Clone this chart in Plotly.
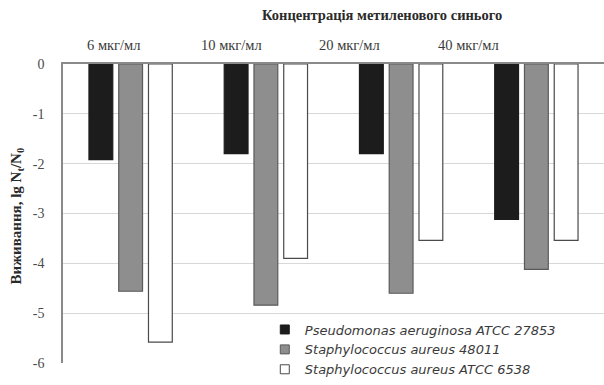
import plotly.graph_objects as go

# Concentrations of methylene blue (category axis)
concentrations = ["6 мкг/мл", "10 мкг/мл", "20 мкг/мл", "40 мкг/мл"]

# Survival, lg Nt/N0, per strain
pseudomonas = [-1.92, -1.80, -1.80, -3.12]
staph_48011 = [-4.56, -4.84, -4.60, -4.12]
staph_6538 = [-5.58, -3.90, -3.54, -3.54]

strain_names = [
    "Pseudomonas aeruginosa ATCC 27853",
    "Staphylococcus aureus 48011",
    "Staphylococcus aureus ATCC 6538",
]

y_ticks = [0, -1, -2, -3, -4, -5, -6]

# Concentration captions sit on a slightly tighter spacing than the groups
caption_x = [0.094, 0.312, 0.529, 0.749]

fill_colors = ["#1c1c1c", "#8e8e8e", "#ffffff"]
edge_colors = ["#1c1c1c", "#5a5a5a", "#4a4a4a"]

fig = go.Figure()
for name, vals, fc, ec in zip(strain_names, [pseudomonas, staph_48011, staph_6538], fill_colors, edge_colors):
    fig.add_trace(go.Bar(
        x=concentrations, y=vals, name=name, legendgroup=name, showlegend=False,
        marker=dict(color=fc, line=dict(color=ec, width=1.2)),
    ))

# Small square swatches for the legend, sharing each strain's colours
for name, fc, ec in zip(strain_names, fill_colors, edge_colors):
    fig.add_trace(go.Scatter(
        x=[None], y=[None], mode="markers", name="<i>" + name + "</i>",
        legendgroup=name, showlegend=True,
        marker=dict(symbol="square", size=9, color=fc, line=dict(color=ec, width=1)),
    ))

annotations = [
    dict(text="<b>Концентрація метиленового синього</b>", xref="paper", yref="paper",
         x=0.59, y=1.0, yshift=49, xanchor="center", yanchor="middle", showarrow=False,
         font=dict(family="Liberation Serif", size=14.5, color="#2a2a2a")),
    dict(text="<b>Виживання, lg N<sub>t</sub>/N<sub>0</sub></b>", xref="paper", yref="paper",
         x=0, xshift=-46, y=0.49, xanchor="center", yanchor="middle", textangle=-90,
         showarrow=False,
         font=dict(family="Liberation Serif", size=15, color="#2a2a2a")),
]
for label, px in zip(concentrations, caption_x):
    annotations.append(dict(
        text=label, xref="paper", yref="paper", x=px, y=1.0, yshift=19,
        xanchor="center", yanchor="middle", showarrow=False,
        font=dict(family="Liberation Serif", size=14.5, color="#3a3a3a"),
    ))

fig.update_layout(
    width=604, height=385,
    margin=dict(l=63, r=0, t=64, b=22),
    paper_bgcolor="white", plot_bgcolor="white",
    barmode="group", bargap=0.34, bargroupgap=0.2,
    showlegend=True,
    legend=dict(
        x=0.373, y=-0.072, xanchor="left", yanchor="bottom",
        bgcolor="white", borderwidth=0,
        font=dict(family="DejaVu Sans", size=13, color="#3a3a3a"),
        traceorder="normal", itemwidth=30, tracegroupgap=0,
    ),
    xaxis=dict(
        side="top", showline=True, linecolor="#8a8a8a", linewidth=1.5,
        ticks="", showticklabels=False, showgrid=False,
    ),
    yaxis=dict(
        range=[-6, 0], tickvals=y_ticks, ticktext=[str(v) for v in y_ticks],
        showline=True, linecolor="#8a8a8a", linewidth=1.5,
        showgrid=True, gridcolor="#d8d8d8", gridwidth=1.2, zeroline=False,
        ticks="", ticklen=0, ticklabelstandoff=14,
        tickfont=dict(family="Liberation Serif", size=14, color="#4a4a4a"),
    ),
    annotations=annotations,
)

fig.write_html("out.html")
